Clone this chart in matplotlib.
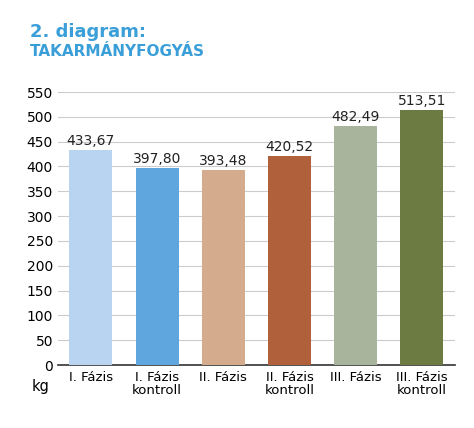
import matplotlib
matplotlib.use("Agg")
import matplotlib.pyplot as plt

categories = ["I. Fázis", "I. Fázis\nkontroll", "II. Fázis", "II. Fázis\nkontroll", "III. Fázis", "III. Fázis\nkontroll"]
values = [433.67, 397.80, 393.48, 420.52, 482.49, 513.51]
labels = ["433,67", "397,80", "393,48", "420,52", "482,49", "513,51"]
colors = ["#b8d4f1", "#5fa5de", "#d5ab8e", "#b0613b", "#a8b49b", "#6b7b41"]

fig = plt.figure(figsize=(4.74, 4.28), dpi=100)
ax = fig.add_axes([0.122, 0.147, 0.838, 0.638])
x = range(len(categories))
bars = ax.bar(x, values, width=0.65, color=colors, zorder=3)
for b, l in zip(bars, labels):
    ax.text(b.get_x() + b.get_width()/2, b.get_height() + 4, l, ha="center", va="bottom", fontsize=10, color="#222")
ax.set_ylim(0, 550)
ax.set_yticks(range(0, 551, 50))
ax.set_xlim(-0.5, 5.5)
ax.set_xticks(list(x))
ax.set_xticklabels(categories, fontsize=9.5, linespacing=1.0)
ax.tick_params(axis="y", length=0, labelsize=10)
ax.tick_params(axis="x", length=0, pad=4)
ax.grid(axis="y", color="#cccccc", linewidth=0.8, zorder=0)
for s in ["top", "right", "left"]:
    ax.spines[s].set_visible(False)
ax.spines["bottom"].set_color("#333333")
ax.spines["bottom"].set_linewidth(1.2)
fig.text(0.085, 0.098, "kg", fontsize=10.5, ha="center", va="center")
fig.text(0.063, 0.925, "2. diagram:", fontsize=13, fontweight="bold", color="#3a9fd8", va="center")
fig.text(0.063, 0.88, "TAKARMÁNYFOGYÁS", fontsize=11, fontweight="bold", color="#3a9fd8", va="center")
fig.savefig("out.png", dpi=100)
